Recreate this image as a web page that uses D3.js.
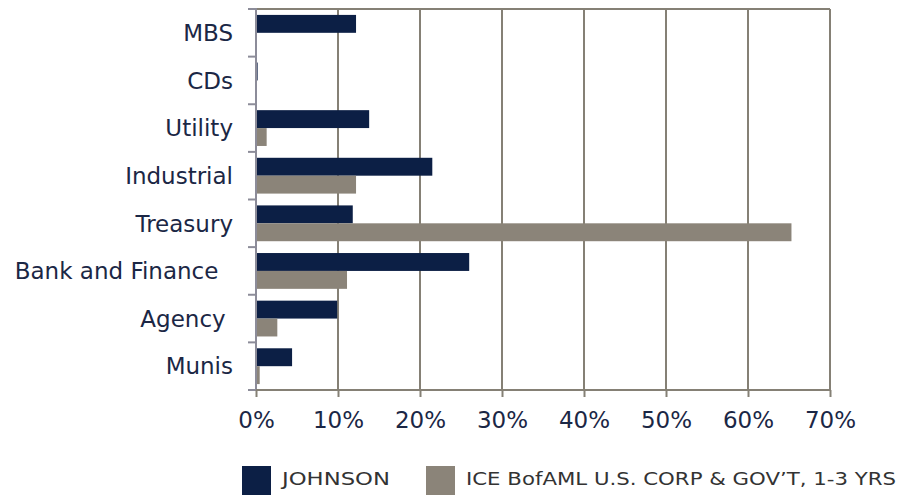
<!DOCTYPE html>
<html><head><meta charset="utf-8">
<script src="https://cdn.jsdelivr.net/npm/d3@7"></script>
<style>
html,body{margin:0;padding:0;background:#fff;}
svg text{white-space:pre;}
</style></head>
<body>
<svg id="chart" width="901" height="495"></svg>
<script>
const categories = ["MBS","CDs","Utility","Industrial","Treasury","Bank and Finance  ","Agency ","Munis"];
const seriesNames = ["JOHNSON","ICE BofAML U.S. CORP & GOV\u2019T, 1-3 YRS"];
const johnson = [12.2, 0.2, 13.8, 21.5, 11.8, 26.0, 9.9, 4.4];
const ice = [0, 0, 1.3, 12.2, 65.3, 11.1, 2.6, 0.45];
const xTicks = [0,10,20,30,40,50,60,70];
const colors = ["#0c1f45","#8b8479"];

(function(){
const svg = d3.select("#chart");
const pL = 256, pR = 830, pT = 9, pB = 390;
const font = "'DejaVu Sans', sans-serif";
const x = d3.scaleLinear().domain([0,70]).range([pL,pR]);
const y = d3.scaleBand().domain(categories).range([pT,pB]).paddingInner(0).paddingOuter(0);
const inner = d3.scaleBand().domain([0,1]).range([0,y.bandwidth()]).paddingInner(0).paddingOuter(0.33);

const textColor = "#1b2745";
const gridColor = "#858075";

svg.append("g").selectAll("line").data(xTicks.slice(1)).join("line")
  .attr("x1",d=>x(d)).attr("x2",d=>x(d)).attr("y1",pT).attr("y2",pB)
  .attr("stroke",gridColor).attr("stroke-width",2);
svg.append("line").attr("x1",pL).attr("x2",pR).attr("y1",pT).attr("y2",pT)
  .attr("stroke",gridColor).attr("stroke-width",2);

const data = categories.map((c,i)=>({c, v:[johnson[i], ice[i]]}));
const g = svg.append("g");
data.forEach(d=>{
  d.v.forEach((v,k)=>{
    if (v<=0) return;
    g.append("rect")
      .attr("x",x(0)).attr("y",y(d.c)+inner(k))
      .attr("width",x(v)-x(0)).attr("height",inner.bandwidth())
      .attr("fill",colors[k]);
  });
});

const yAxis = d3.axisLeft(y).tickSize(8).tickFormat(d=>d);
const ya = svg.append("g").attr("transform",`translate(${pL},0)`).call(yAxis);
ya.select(".domain").remove();
ya.selectAll(".tick line").remove();
ya.selectAll(".tick text").attr("x",-23).attr("dy","0.36em")
  .attr("font-family",font).attr("font-size",23).attr("fill",textColor);
const bounds = categories.map(c=>y(c)).concat([pB]);
svg.append("g").selectAll("line").data(bounds).join("line")
  .attr("x1",pL-8).attr("x2",pL).attr("y1",d=>d).attr("y2",d=>d)
  .attr("stroke","#8c8c99").attr("stroke-width",2);
svg.append("line").attr("x1",pL).attr("x2",pL).attr("y1",pT-1).attr("y2",pB+1)
  .attr("stroke","#8c8c99").attr("stroke-width",2);

const xAxis = d3.axisBottom(x).tickValues(xTicks).tickSize(7).tickFormat(d=>d+"%");
const xa = svg.append("g").attr("transform",`translate(0,${pB})`).call(xAxis);
xa.select(".domain").attr("stroke",gridColor).attr("stroke-width",2).attr("d",`M${pL},0H${pR}`);
xa.selectAll(".tick line").attr("stroke",gridColor).attr("stroke-width",2);
xa.selectAll(".tick text").attr("y",30).attr("dy","0.36em")
  .attr("font-family",font).attr("font-size",23).attr("fill",textColor);

const legX = [242, 426];
const legW = [108, 430];
const lg = svg.append("g");
seriesNames.forEach((n,i)=>{
  lg.append("rect").attr("x",legX[i]).attr("y",466).attr("width",29).attr("height",29).attr("fill",colors[i]);
  lg.append("text").attr("x",legX[i]+40).attr("y",478.5).attr("dy","0.36em")
    .attr("font-family",font).attr("font-size",18.5).attr("fill","#333")
    .attr("textLength",legW[i]).attr("lengthAdjust","spacingAndGlyphs")
    .text(n);
});
})();
</script>
</body></html>
